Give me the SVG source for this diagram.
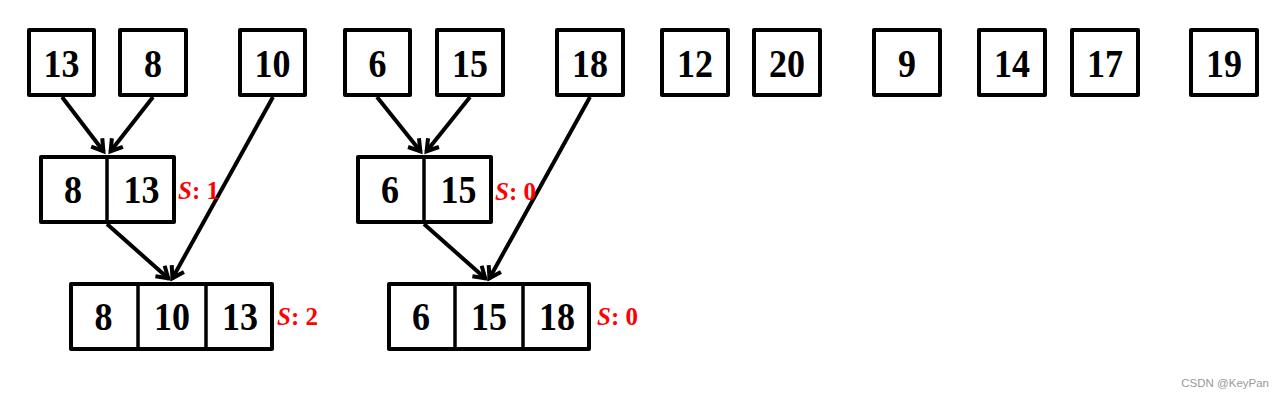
<svg xmlns="http://www.w3.org/2000/svg" width="1285" height="401" viewBox="0 0 1285 401">
<style>
.b{fill:#fff;stroke:#000;stroke-width:4;stroke-linejoin:round}
.d{stroke:#000;stroke-width:3.5}
.t{font-family:"Liberation Serif","Times New Roman",serif;font-weight:bold;font-size:40px;fill:#000;text-anchor:middle}
.s{font-family:"Liberation Serif","Times New Roman",serif;font-weight:bold;font-size:25px;fill:#ff0000}
.c{stroke:#000;stroke-width:4;fill:none}
</style>
<defs>
<marker id="ah" markerUnits="userSpaceOnUse" viewBox="-16 -10 20 20" refX="0" refY="0" markerWidth="20" markerHeight="20" orient="auto">
<path d="M-12,-7 L-1,0 L-12,7" fill="none" stroke="#000" stroke-width="4" stroke-linejoin="miter"/>
</marker>
</defs>
<rect width="1285" height="401" fill="#fff"/>
<g id="connectors">
<line class="c" x1="62" y1="97" x2="104" y2="152" marker-end="url(#ah)"/>
<line class="c" x1="153" y1="97" x2="110" y2="152" marker-end="url(#ah)"/>
<line class="c" x1="273" y1="97" x2="172" y2="279" marker-end="url(#ah)"/>
<line class="c" x1="107" y1="224" x2="169" y2="279" marker-end="url(#ah)"/>
<line class="c" x1="377" y1="97" x2="421" y2="152" marker-end="url(#ah)"/>
<line class="c" x1="470" y1="97" x2="426" y2="152" marker-end="url(#ah)"/>
<line class="c" x1="590" y1="97" x2="489" y2="279" marker-end="url(#ah)"/>
<line class="c" x1="424" y1="224" x2="486" y2="279" marker-end="url(#ah)"/>
</g>
<g id="n13"><rect class="b" x="29" y="30" width="65" height="65"/><text class="t" transform="translate(61.5 77) scale(0.9 1)">13</text></g>
<g id="n8"><rect class="b" x="120" y="30" width="66" height="65"/><text class="t" transform="translate(153 77) scale(0.9 1)">8</text></g>
<g id="n10"><rect class="b" x="240" y="30" width="65" height="65"/><text class="t" transform="translate(272.5 77) scale(0.9 1)">10</text></g>
<g id="n6"><rect class="b" x="345" y="30" width="65" height="65"/><text class="t" transform="translate(377.5 77) scale(0.9 1)">6</text></g>
<g id="n15"><rect class="b" x="437" y="30" width="66" height="65"/><text class="t" transform="translate(470 77) scale(0.9 1)">15</text></g>
<g id="n18"><rect class="b" x="557" y="30" width="66" height="65"/><text class="t" transform="translate(590 77) scale(0.9 1)">18</text></g>
<g id="n12"><rect class="b" x="662" y="30" width="66" height="65"/><text class="t" transform="translate(695 77) scale(0.9 1)">12</text></g>
<g id="n20"><rect class="b" x="754" y="30" width="66" height="65"/><text class="t" transform="translate(787 77) scale(0.9 1)">20</text></g>
<g id="n9"><rect class="b" x="874" y="30" width="66" height="65"/><text class="t" transform="translate(907 77) scale(0.9 1)">9</text></g>
<g id="n14"><rect class="b" x="979" y="30" width="66" height="65"/><text class="t" transform="translate(1012 77) scale(0.9 1)">14</text></g>
<g id="n17"><rect class="b" x="1072" y="30" width="66" height="65"/><text class="t" transform="translate(1105 77) scale(0.9 1)">17</text></g>
<g id="n19"><rect class="b" x="1191" y="30" width="66" height="65"/><text class="t" transform="translate(1224 77) scale(0.9 1)">19</text></g>
<g id="m1">
<rect class="b" x="41" y="157" width="133" height="65"/>
<line class="d" x1="107" y1="157" x2="107" y2="222"/>
<text class="t" transform="translate(73 203) scale(0.9 1)">8</text><text class="t" transform="translate(141.5 203) scale(0.9 1)">13</text>
<text class="s" x="178" y="199"><tspan font-style="italic">S</tspan>: 1</text>
</g>
<g id="m2">
<rect class="b" x="358" y="157" width="133" height="65"/>
<line class="d" x1="424" y1="157" x2="424" y2="222"/>
<text class="t" transform="translate(390 203) scale(0.9 1)">6</text><text class="t" transform="translate(458.5 203) scale(0.9 1)">15</text>
<text class="s" x="495" y="200"><tspan font-style="italic">S</tspan>: 0</text>
</g>
<g id="m3">
<rect class="b" x="71" y="284" width="201" height="65"/>
<line class="d" x1="138" y1="284" x2="138" y2="349"/>
<line class="d" x1="206" y1="284" x2="206" y2="349"/>
<text class="t" transform="translate(103.5 330) scale(0.9 1)">8</text><text class="t" transform="translate(172 330) scale(0.9 1)">10</text><text class="t" transform="translate(240 330) scale(0.9 1)">13</text>
<text class="s" x="277" y="325"><tspan font-style="italic">S</tspan>: 2</text>
</g>
<g id="m4">
<rect class="b" x="389" y="284" width="200" height="65"/>
<line class="d" x1="455" y1="284" x2="455" y2="349"/>
<line class="d" x1="523" y1="284" x2="523" y2="349"/>
<text class="t" transform="translate(421 330) scale(0.9 1)">6</text><text class="t" transform="translate(489 330) scale(0.9 1)">15</text><text class="t" transform="translate(557 330) scale(0.9 1)">18</text>
<text class="s" x="597" y="325"><tspan font-style="italic">S</tspan>: 0</text>
</g>
<text x="1269" y="387" font-family="'Liberation Sans',Arial,sans-serif" font-size="11.5" fill="#999" text-anchor="end">CSDN @KeyPan</text>
</svg>
